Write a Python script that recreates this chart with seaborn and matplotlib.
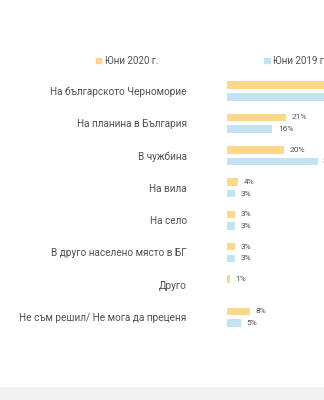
import matplotlib
matplotlib.use("Agg")
import matplotlib.pyplot as plt
import matplotlib.patches as mpatches
import seaborn as sns
import pandas as pd

# Where people plan to spend their summer holiday
categories = [
    "На българското Черноморие",
    "На планина в България",
    "В чужбина",
    "На вила",
    "На село",
    "В друго населено място в БГ",
    "Друго",
    "Не съм решил/ Не мога да преценя",
]
series_names = ["Юни 2020 г.", "Юни 2019 г."]
values_2020 = [52, 21, 20, 4, 3, 3, 1, 8]
values_2019 = [49, 16, 32, 3, 3, 3, 0, 5]
palette = ["#FCD88A", "#C4E3F2"]
text_color = "#505050"

df = pd.DataFrame({
    "category": categories * 2,
    "period": [series_names[0]] * len(categories) + [series_names[1]] * len(categories),
    "value": values_2020 + values_2019,
})

sns.set_theme(style="white")
plt.rcParams["font.family"] = ["Roboto", "DejaVu Sans"]

W, H = 324, 400
fig = plt.figure(figsize=(W / 100, H / 100), dpi=100)
fig.patch.set_facecolor("white")

px_per_pct = 2.83
xmax = 40
left_px = 227
row_px = 32.3
top_px = 91 - row_px / 2
n = len(categories)
ax = fig.add_axes([
    left_px / W,
    1 - (top_px + n * row_px) / H,
    xmax * px_per_pct / W,
    n * row_px / H,
])

sns.barplot(
    data=df, y="category", x="value", hue="period",
    order=categories, hue_order=series_names, palette=palette,
    width=0.72, gap=0.35, orient="h", ax=ax, legend=False,
    saturation=1, edgecolor="none", errorbar=None,
)
ax.set_xlim(0, xmax)
ax.set_ylim(n - 0.5, -0.5)
ax.set_xlabel("")
ax.set_ylabel("")
ax.set_xticks([])
for s in ax.spines.values():
    s.set_visible(False)
ax.tick_params(axis="y", length=0, pad=29, labelsize=7.2, labelcolor=text_color)

for container in ax.containers:
    labels = [f"{v:.0f}%" if v > 0 else "" for v in container.datavalues]
    ax.bar_label(container, labels=labels, padding=4, fontsize=6,
                 color=text_color, clip_on=False)

# Legend
handles = [mpatches.Patch(color=c, label=l) for c, l in zip(palette, series_names)]
fig.legend(
    handles=handles, loc="center left", bbox_to_anchor=(96 / W, 1 - 61 / H),
    ncol=2, frameon=False, fontsize=7, labelcolor=text_color,
    handlelength=0.55, handleheight=0.55, handletextpad=0.35,
    columnspacing=10.9, borderaxespad=0, borderpad=0,
)

# Grey footer band
fig.add_artist(mpatches.Rectangle((0, 0), 1, 13 / H, transform=fig.transFigure,
                                  facecolor="#F2F2F2", edgecolor="none"))

fig.savefig("out.png", dpi=100)
